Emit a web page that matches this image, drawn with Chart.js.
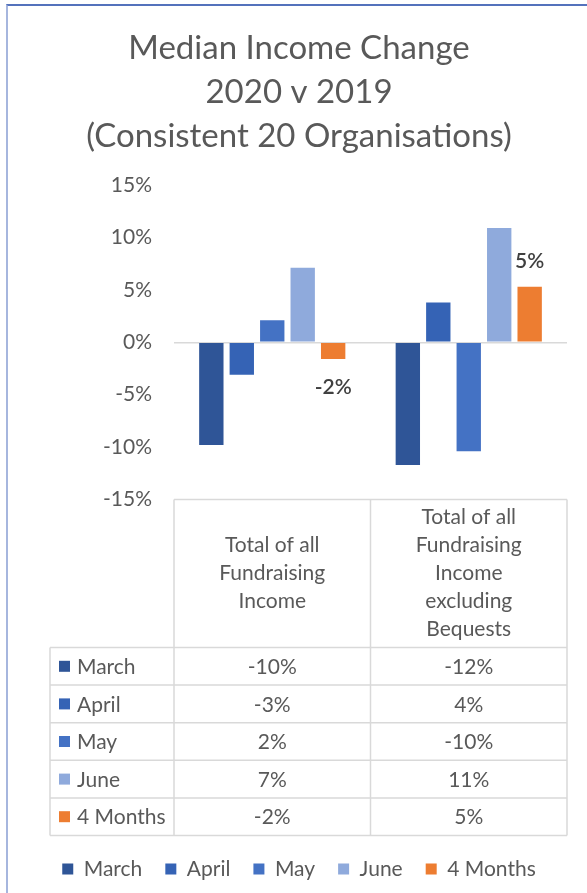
<!DOCTYPE html>
<html>
<head>
<meta charset="utf-8">
<title>Median Income Change</title>
<script src="https://cdn.jsdelivr.net/npm/chart.js@4"></script>
<style>
  html, body { margin: 0; padding: 0; background: #fff; }
  #wrap { position: relative; width: 587px; height: 893px; }
  #frame {
    position: absolute; left: 6px; top: 4px; right: 0; bottom: 0;
    border-top: 2px solid #5472bc; border-left: 2px solid #a6b6de;
    pointer-events: none;
  }
</style>
</head>
<body>
<div id="wrap">
  <canvas id="chart" width="587" height="893"></canvas>
  <div id="frame"></div>
</div>
<script>
// -------------------------
// DATA
// -------------------------
const categories = [
    ["Total of all", "Fundraising", "Income"],
    ["Total of all", "Fundraising", "Income", "excluding", "Bequests"]
];
const seriesNames = ["March", "April", "May", "June", "4 Months"];
const march = [-9.8, -11.7];
const april = [-3.1, 3.8];
const may = [2.1, -10.4];
const june = [7.1, 10.9];
const fourMonths = [-1.6, 5.3];
const yTicks = [-15, -10, -5, 0, 5, 10, 15];
const labelledSeries = ["4 Months"];

const colors = ["#2f5597", "#3563b5", "#4472c4", "#8faadc", "#ed7d31"];
const textColor = "#595959";
const lineColor = "#d9d9d9";
const fontFamily = "Lato, 'Open Sans', sans-serif";

const pct = v => Number(v).toFixed(0) + "%";

// -------------------------
// PLUGINS
// -------------------------
// value labels for the 4 Months bars
const barLabels = {
    id: "barLabels",
    afterDatasetsDraw(chart) {
        const ctx = chart.ctx;
        ctx.save();
        ctx.font = "600 21px " + fontFamily;
        ctx.fillStyle = "#404040";
        ctx.textAlign = "center";
        ctx.textBaseline = "middle";
        chart.data.datasets.forEach((ds, i) => {
            if (!labelledSeries.includes(ds.label)) return;
            chart.getDatasetMeta(i).data.forEach((bar, j) => {
                const v = ds.data[j];
                const y = v < 0 ? bar.y + 28 : bar.y - 25;
                ctx.fillText(pct(v), bar.x, y);
            });
        });
        ctx.restore();
    }
};

// data table under the plot, lined up with the x scale
const dataTable = {
    id: "dataTable",
    afterDraw(chart) {
        const ctx = chart.ctx;
        const x = chart.scales.x;
        const top = chart.chartArea.bottom;
        const bottom = x.bottom;
        const rowH = 37.6;
        const headBottom = bottom - rowH * chart.data.datasets.length;
        const tableLeft = 50;

        const edges = [x.left];
        for (let i = 0; i < chart.data.labels.length - 1; i++) {
            edges.push((x.getPixelForValue(i) + x.getPixelForValue(i + 1)) / 2);
        }
        edges.push(x.right);

        ctx.save();
        ctx.strokeStyle = lineColor;
        ctx.lineWidth = 1.5;
        ctx.beginPath();
        // horizontal lines
        ctx.moveTo(x.left, top); ctx.lineTo(x.right, top);
        for (let r = 0; r <= chart.data.datasets.length; r++) {
            const y = headBottom + r * rowH;
            ctx.moveTo(tableLeft, y); ctx.lineTo(x.right, y);
        }
        // vertical lines
        edges.forEach(e => { ctx.moveTo(e, top); ctx.lineTo(e, bottom); });
        ctx.moveTo(tableLeft, headBottom); ctx.lineTo(tableLeft, bottom);
        ctx.stroke();

        ctx.fillStyle = textColor;
        ctx.font = "21px " + fontFamily;
        ctx.textBaseline = "middle";
        ctx.textAlign = "center";

        // header cells
        const headMid = (top + headBottom) / 2;
        const lh = 28;
        chart.data.labels.forEach((lines, i) => {
            const cx = x.getPixelForValue(i);
            const y0 = headMid - (lines.length - 1) * lh / 2;
            lines.forEach((t, k) => ctx.fillText(t, cx, y0 + k * lh));
        });

        // series rows
        chart.data.datasets.forEach((ds, r) => {
            const cy = headBottom + r * rowH + rowH / 2;
            ctx.fillStyle = ds.backgroundColor;
            ctx.fillRect(59, cy - 5.5, 11, 11);
            ctx.fillStyle = textColor;
            ctx.textAlign = "left";
            ctx.fillText(ds.label, 77, cy + 1);
            ctx.textAlign = "center";
            ds.data.forEach((v, i) => ctx.fillText(pct(v), x.getPixelForValue(i), cy + 1));
        });
        ctx.restore();
    }
};

// -------------------------
// CHART
// -------------------------
const seriesValues = [march, april, may, june, fourMonths];

new Chart(document.getElementById("chart"), {
    type: "bar",
    data: {
        labels: categories,
        datasets: seriesNames.map((name, i) => ({
            label: name,
            data: seriesValues[i],
            backgroundColor: colors[i],
            borderWidth: 0,
            categoryPercentage: 0.775,
            barPercentage: 0.8
        }))
    },
    options: {
        responsive: false,
        animation: false,
        layout: { padding: { top: 0, left: 11, right: 0, bottom: 3.5 } },
        plugins: {
            title: {
                display: true,
                text: ["Median Income Change", "2020 v 2019", "(Consistent 20 Organisations)"],
                color: textColor,
                font: { family: fontFamily, size: 33, weight: "normal", lineHeight: 44 / 33 },
                padding: { top: 26, bottom: 27 }
            },
            legend: {
                position: "bottom",
                labels: {
                    color: textColor,
                    font: { family: fontFamily, size: 21 },
                    boxWidth: 11,
                    boxHeight: 11,
                    padding: 23
                }
            },
            tooltip: { enabled: false }
        },
        scales: {
            x: {
                grid: { display: false },
                border: { display: false },
                ticks: { display: false },
                afterFit: s => { s.height = 336; }
            },
            y: {
                min: yTicks[0],
                max: yTicks[yTicks.length - 1],
                afterBuildTicks: s => { s.ticks = yTicks.map(v => ({ value: v })); },
                ticks: {
                    color: textColor,
                    font: { family: fontFamily, size: 21 },
                    padding: 22,
                    callback: v => v + "%"
                },
                grid: {
                    drawTicks: false,
                    lineWidth: 1.5,
                    color: c => (c.tick && c.tick.value === 0 ? lineColor : "rgba(0,0,0,0)")
                },
                border: { display: false },
                afterFit: s => { s.width = 163; }
            },
            // empty right-hand spacer so the plot stops where the table does
            yRight: {
                position: "right",
                grid: { display: false },
                border: { display: false },
                ticks: { display: false },
                afterFit: s => { s.width = 20; }
            }
        }
    },
    plugins: [barLabels, dataTable]
});
</script>
</body>
</html>
